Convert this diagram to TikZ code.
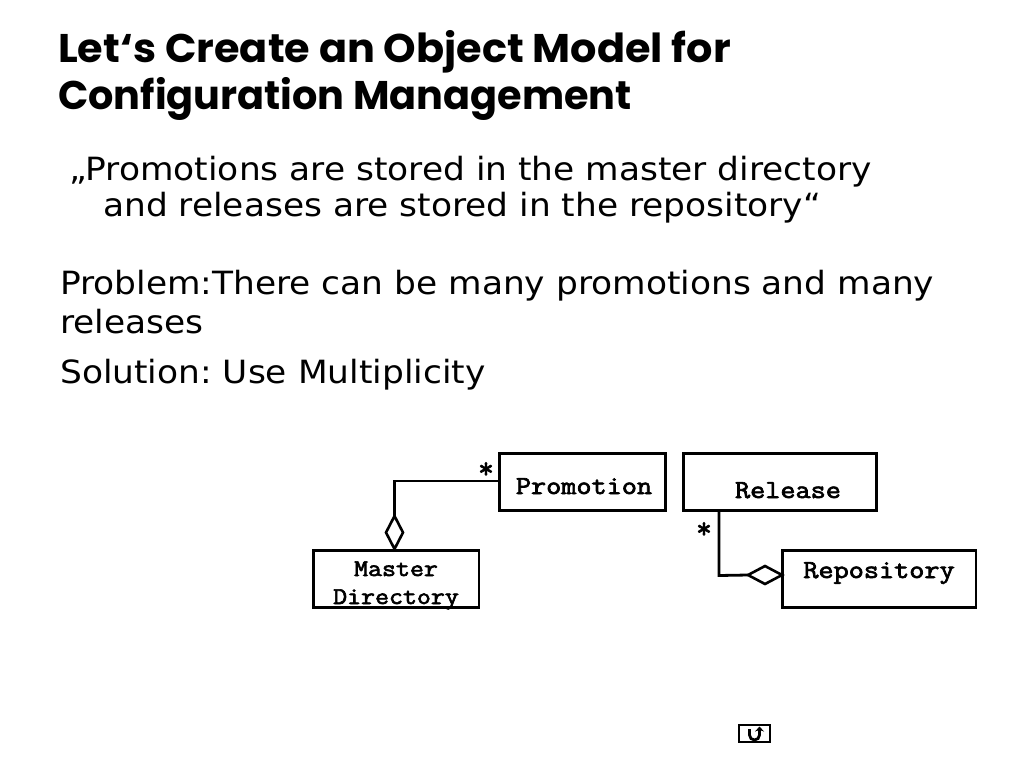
\documentclass[tikz,border=0pt]{standalone}
\usepackage{fontspec}
\usepackage{graphicx}
\setmainfont{DejaVu Sans}[FakeStretch=1.075]
\newfontfamily\titlefont{Poppins}
\newfontfamily\codefont{Latin Modern Mono}[BoldFont={Latin Modern Mono},BoldFeatures={FakeBold=2.5}]
\newcommand{\codetext}[1]{\scalebox{1.13}[1]{#1}}
\newcommand{\titlewide}[2]{\scalebox{#1}[1]{#2}}
\usetikzlibrary{shapes.geometric,arrows.meta}
\tikzset{
  x=1pt,y=-1pt,
  titletext/.style={anchor=base west,inner sep=0pt,font=\titlefont\bfseries\fontsize{40}{40}\selectfont},
  bodytext/.style={anchor=base west,inner sep=0pt,font=\frenchspacing\fontsize{32}{32}\selectfont},
  cls/.style={draw=black,line width=2.6pt,fill=white,inner sep=0pt,outer sep=0pt,anchor=north west},
  clslabel/.style={anchor=base,inner sep=0pt,font=\codefont\bfseries\fontsize{26}{26}\selectfont},
  smalllabel/.style={anchor=base,inner sep=0pt,font=\codefont\bfseries\fontsize{24}{24}\selectfont},
  conn/.style={draw=black,line width=2.8pt},
  agg/.style={diamond,aspect=#1,draw=black,line width=2.6pt,fill=white,inner sep=0pt,outer sep=0pt},
  star/.style={anchor=base,inner sep=0pt,font=\codefont\bfseries\fontsize{30}{30}\selectfont},
}
\begin{document}
\begin{tikzpicture}
\useasboundingbox (0,0) rectangle (1024,768);
\node[titletext] (t1) at (58,62.5) {\titlewide{1.035}{Let‘s Create an Object Model for}};
\node[titletext] (t2) at (58,109.5) {\titlewide{0.995}{Configuration Management}};
\node[bodytext] (b1) at (69,180) {„Promotions are stored in the master directory};
\node[bodytext] (b2) at (103,216) {and releases are stored in the repository“};
\node[bodytext] (b3) at (60,294) {Problem:There can be many promotions and many};
\node[bodytext] (b4) at (60,333) {releases};
\node[bodytext] (b5) at (60,383) {Solution: Use Multiplicity};

\node[cls,minimum width=166pt,minimum height=57pt] (promo) at (499.5,453.3) {};
\node[cls,minimum width=193.4pt,minimum height=57pt] (rel) at (683.3,453.3) {};
\node[cls,minimum width=165.7pt,minimum height=56.7pt] (master) at (313.3,550.6) {};
\node[cls,minimum width=193.4pt,minimum height=57pt] (repo) at (782.7,550.3) {};
\node[clslabel] (lp) at (584,494) {\codetext{Promotion}};
\node[clslabel] (lr) at (788,498) {\codetext{Release}};
\node[clslabel] (lrp) at (879,578) {\codetext{Repository}};
\node[smalllabel] (lm1) at (396,576) {\codetext{Master}};
\node[smalllabel] (lm2) at (396,604) {\codetext{Directory}};

\coordinate (c1) at (394.5,481);
\coordinate (c2) at (719,575.5);
\node[agg=0.55,minimum width=17pt,minimum height=33pt] (d1) at (394.5,532.5) {};
\node[agg=2,minimum width=34pt,minimum height=18pt] (d2) at (765,575) {};
\draw[conn] (promo.west |- c1) -- (c1) -- (d1.north);
\draw[conn] (rel.south -| c2) -- (c2) -- (d2.west);
\node[star] (s1) at (486,478) {*};
\node[star] (s2) at (704,538) {*};

\node[draw=black,line width=1.6pt,minimum width=31pt,minimum height=17pt,inner sep=0pt,outer sep=0pt] (ret) at (754.5,733.5) {};
\coordinate (ua) at (749.5,729);
\coordinate (ub) at (749.5,735);
\coordinate (ud) at (759.5,726.5);
\draw[line width=2.8pt,-{Stealth[length=5pt,width=9pt]}] (ua) -- (ub) arc[start angle=180,end angle=0,radius=5] -- (ud);
\end{tikzpicture}
\end{document}
